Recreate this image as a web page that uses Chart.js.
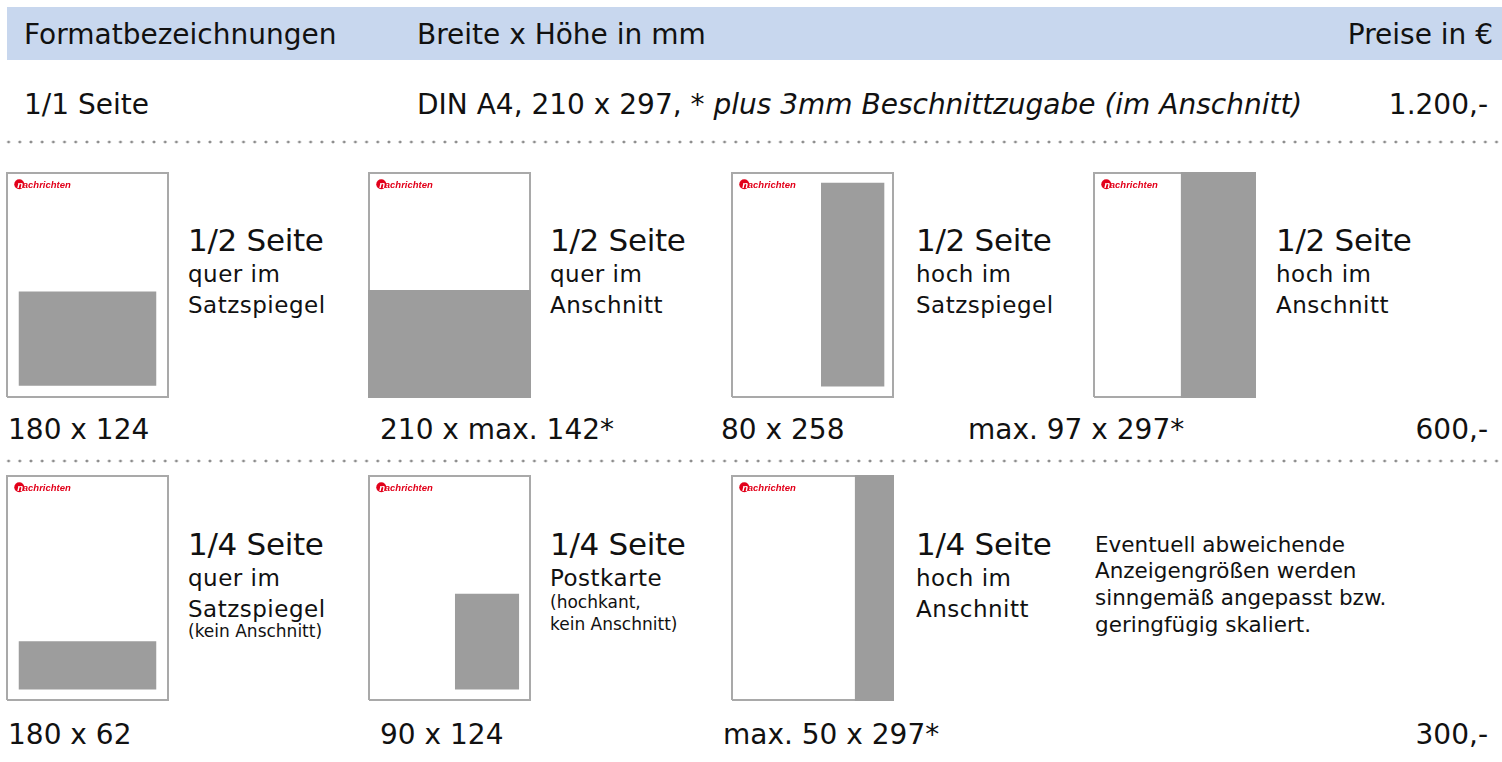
<!DOCTYPE html>
<html lang="de">
<head>
<meta charset="utf-8">
<title>Anzeigenformate und Preise</title>
<script src="https://cdn.jsdelivr.net/npm/chart.js@4.4.0/dist/chart.umd.min.js"></script>
<style>
  html, body { margin: 0; padding: 0; background: #fff; }
  body { width: 1502px; height: 762px; position: relative; overflow: hidden;
         font-family: "DejaVu Sans", sans-serif; color: #111; }
  .head { position: absolute; left: 7px; top: 7px; width: 1495px; height: 53px; background: #c8d7ee; }
  .dots { position: absolute; left: 3px; width: 1499px; height: 4px;
          background-image: radial-gradient(circle, #8c8c8c 1.2px, transparent 1.7px);
          background-size: 11.2px 4px; background-repeat: repeat-x; }
  .t { position: absolute; white-space: nowrap; line-height: 1; }
  canvas.page { position: absolute; }
</style>
</head>
<body>
<div class="head"></div>
<div class="dots" style="top:140px"></div>
<div class="dots" style="top:459px"></div>

<script>
// Seite DIN A4 in mm
const pageSize = [210, 297];

// Anzeigenflächen je Format (mm, von links / von unten)
const adX = [[15, 195], [-2, 212], [116, 199], [113, 212], [15, 195], [112, 196], [160, 212]];
const adY = [[15, 140], [-2, 142], [14, 284], [-2, 299], [14, 78], [14, 141], [-2, 299]];

// Texte
const headers = ['Formatbezeichnungen', 'Breite x Höhe in mm', 'Preise in €'];
const fullPage = ['1/1 Seite', 'DIN A4, 210 x 297, * ', 'plus 3mm Beschnittzugabe (im Anschnitt)', '1.200,-'];
const formatTitles = ['1/2 Seite', '1/2 Seite', '1/2 Seite', '1/2 Seite', '1/4 Seite', '1/4 Seite', '1/4 Seite'];
const formatLines = [['quer im', 'Satzspiegel'], ['quer im', 'Anschnitt'], ['hoch im', 'Satzspiegel'],
                     ['hoch im', 'Anschnitt'], ['quer im', 'Satzspiegel'], ['Postkarte'], ['hoch im', 'Anschnitt']];
const formatNotes = [[], [], [], [], ['(kein Anschnitt)'], ['(hochkant,', 'kein Anschnitt)'], []];
const adSizes = ['180 x 124', '210 x max. 142*', '80 x 258', 'max. 97 x 297*', '180 x 62', '90 x 124', 'max. 50 x 297*'];
const prices = ['600,-', '300,-'];
const remark = ['Eventuell abweichende', 'Anzeigengrößen werden', 'sinngemäß angepasst bzw.', 'geringfügig skaliert.'];

// Layout
const pageX = [6, 368, 731, 1093, 6, 368, 731];
const pageY = [172, 172, 172, 172, 475, 475, 475];
const textX = [188, 550, 916, 1276, 188, 550, 916];
const sizeX = [8, 380, 721, 968, 8, 380, 723];

function put(text, x, base, size, opts = {}) {
    const el = document.createElement('div');
    el.className = 't';
    el.style.fontSize = size + 'px';
    el.style.top = (base - 0.846 * size) + 'px';
    if (opts.right) el.style.right = (1502 - x) + 'px';
    else el.style.left = x + 'px';
    if (opts.ls) el.style.letterSpacing = opts.ls + 'px';
    el.textContent = text;
    document.body.appendChild(el);
    return el;
}

// Kopfzeile
put(headers[0], 24, 45, 28);
put(headers[1], 417, 45, 28);
put(headers[2], 1493, 45, 28, { right: true });

// 1/1 Seite
put(fullPage[0], 24, 115, 28);
const din = put(fullPage[1], 417, 115, 28);
const it = document.createElement('span');
it.style.fontStyle = 'italic';
it.textContent = fullPage[2];
din.appendChild(it);
put(fullPage[3], 1488, 115, 28, { right: true });

// Formatbeschriftungen
formatTitles.forEach((title, i) => {
    const row2 = i >= 4;
    const b = row2 ? 555 : 251;
    put(title, textX[i], b, 31, { ls: -0.3 });
    formatLines[i].forEach((l, k) => put(l, textX[i], b + 31 + k * 31.5, 23, { ls: 0.5 }));
    const nb = i === 5 ? 608 : 637;
    formatNotes[i].forEach((l, k) => put(l, textX[i], nb + k * 22, 17));
    put(adSizes[i], sizeX[i], row2 ? 745 : 440, 28);
});
put(prices[0], 1488, 440, 28, { right: true });
put(prices[1], 1488, 745, 28, { right: true });
remark.forEach((l, k) => put(l, 1095, 551.7 + k * 26.7, 21.5));

// Logo oben links auf jeder Miniseite
const logoPlugin = {
    id: 'logo',
    afterDatasetsDraw(chart) {
        const ctx = chart.ctx;
        const cx = chart.scales.x.getPixelForValue(16);
        const cy = chart.scales.y.getPixelForValue(282);
        ctx.save();
        ctx.fillStyle = '#e2001a';
        ctx.beginPath();
        ctx.arc(cx, cy, 5, 0, Math.PI * 2);
        ctx.fill();
        ctx.font = 'italic bold 9.5px "Liberation Sans"';
        ctx.textBaseline = 'middle';
        ctx.fillStyle = '#fff';
        ctx.fillText('n', cx - 2, cy + 1);
        ctx.fillStyle = '#e2001a';
        ctx.fillText('achrichten', cx + 3.5, cy + 1);
        ctx.restore();
    }
};

function drawPage(i) {
    const canvas = document.createElement('canvas');
    canvas.className = 'page';
    canvas.width = 163;
    canvas.height = 226;
    canvas.style.left = pageX[i] + 'px';
    canvas.style.top = pageY[i] + 'px';
    document.body.appendChild(canvas);

    const [w, h] = pageSize;
    new Chart(canvas, {
        type: 'line',
        data: {
            datasets: [
                {
                    // Anzeigenfläche
                    data: [{ x: adX[i][0], y: adY[i][1] }, { x: adX[i][1], y: adY[i][1] }],
                    fill: { value: adY[i][0] },
                    backgroundColor: '#9d9d9d',
                    borderWidth: 0,
                    pointRadius: 0,
                    order: 1
                },
                {
                    // Seitenrand
                    data: [{ x: 0, y: 0 }, { x: w, y: 0 }, { x: w, y: h }, { x: 0, y: h }, { x: 0, y: 0 }],
                    borderColor: '#a9a9a9',
                    borderWidth: 2,
                    pointRadius: 0,
                    fill: false,
                    order: 2
                }
            ]
        },
        options: {
            responsive: false,
            animation: false,
            events: [],
            layout: { padding: 0 },
            scales: {
                x: { type: 'linear', min: -1.3, max: w + 1.3, display: false },
                y: { type: 'linear', min: -1.3, max: h + 1.3, display: false }
            },
            plugins: {
                legend: { display: false },
                tooltip: { enabled: false }
            }
        },
        plugins: [logoPlugin]
    });
}

formatTitles.forEach((t, i) => drawPage(i));
</script>
</body>
</html>
